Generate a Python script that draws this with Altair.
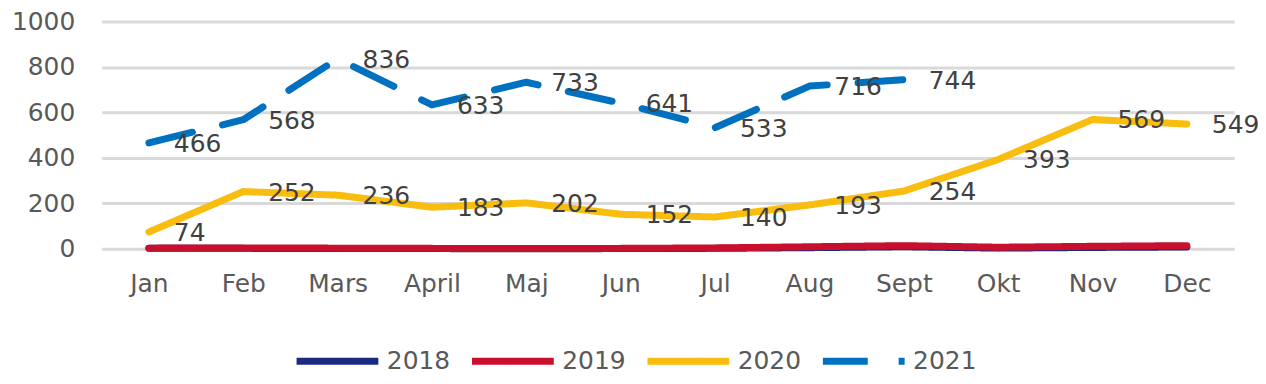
import altair as alt
import pandas as pd

months = ["Jan", "Feb", "Mars", "April", "Maj", "Jun", "Jul", "Aug", "Sept", "Okt", "Nov", "Dec"]
years = ["2018", "2019", "2020", "2021"]
v2018 = [2, 2, 1, 1, 0, 1, 2, 5, 9, 3, 6, 8]
v2019 = [3, 4, 3, 2, 1, 2, 4, 9, 14, 7, 11, 14]
v2020 = [74, 252, 236, 183, 202, 152, 140, 193, 254, 393, 569, 549]
v2021 = [466, 568, 836, 633, 733, 641, 533, 716, 744]
labelled = ["2020", "2021"]
colors = ["#1c2a7e", "#c8102e", "#f9bd10", "#0070c0"]
dashes = [[1, 0], [1, 0], [1, 0], [45, 31]]

rows = []
for y, vals in zip(years, [v2018, v2019, v2020, v2021]):
    for i, v in enumerate(vals):
        rows.append({"year": y, "month": months[i], "idx": i, "value": v})
df = pd.DataFrame(rows)

FONT = "DejaVu Sans"

x = alt.X("month:O", sort=months, scale=alt.Scale(type="point", padding=0.5),
          axis=alt.Axis(title=None, domain=False, ticks=False, labelAngle=0,
                        labelPadding=23, labelFontSize=25, labelFont=FONT,
                        labelColor="#595959", grid=False))
y = alt.Y("value:Q", scale=alt.Scale(domain=[0, 1000]),
          axis=alt.Axis(title=None, domain=False, ticks=False, values=[0, 200, 400, 600, 800, 1000],
                        format="d", labelPadding=27, labelFontSize=25, labelFont=FONT,
                        labelColor="#595959", gridColor="#d9d9d9", gridWidth=3))

lines = alt.Chart(df).mark_line(strokeWidth=7, strokeCap="round", strokeJoin="round").encode(
    x=x,
    y=y,
    color=alt.Color("year:N", title=None,
                    scale=alt.Scale(domain=years, range=colors)),
    strokeDash=alt.StrokeDash("year:N", title=None,
                              scale=alt.Scale(domain=years, range=dashes)),
    order=alt.Order("idx:Q"),
)

texts = alt.Chart(df).transform_filter(
    alt.FieldOneOfPredicate(field="year", oneOf=labelled)
).mark_text(align="left", baseline="middle", dx=25, dy=1, fontSize=25,
            font=FONT, color="#404040").encode(
    x=x,
    y=y,
    text=alt.Text("value:Q"),
)

chart = alt.layer(lines, texts).properties(
    width=1136,
    height=228,
    autosize=alt.AutoSizeParams(type="none"),
    padding={"left": 94, "top": 13, "right": 24, "bottom": 127},
).configure_view(stroke=None).configure_legend(
    orient="none",
    legendX=192,
    legendY=296,
    direction="horizontal",
    symbolType="stroke",
    symbolSize=6724,
    symbolStrokeWidth=7,
    labelFontSize=25,
    labelFont=FONT,
    labelColor="#595959",
    labelOffset=5,
    columnPadding=7,
)

chart.save("out.html", embed_options={"renderer": "svg", "actions": False})
